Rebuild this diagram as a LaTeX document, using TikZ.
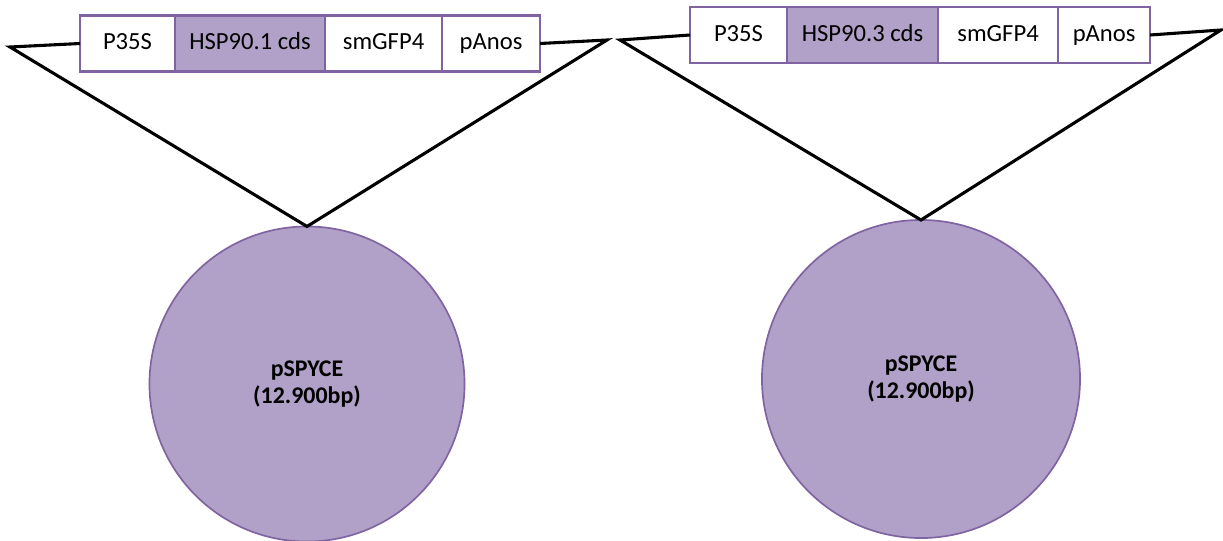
\documentclass[tikz,border=0pt]{standalone}
\usepackage{fontspec}
\setmainfont{Carlito}
\usetikzlibrary{positioning}

\definecolor{lilac}{HTML}{B1A0C7}
\definecolor{lilacdark}{HTML}{8064A2}

\begin{document}
\begin{tikzpicture}[x=0.025cm,y=-0.025cm,
  cell/.style={draw=lilacdark,line width=1.5pt,fill=white,minimum height=1.4cm,
    inner sep=0pt,outer sep=0pt,text height=0.42cm,text depth=0.12cm,font=\fontsize{17.5}{21}\selectfont},
  cds/.style={cell,fill=lilac},
  plasmid/.style={circle,draw=lilacdark,line width=1.2pt,fill=lilac,inner sep=0pt,outer sep=0pt,
    align=center,font=\fontsize{17}{19.5}\selectfont\bfseries},
  link/.style={line width=2.2pt,line join=miter}]

\useasboundingbox (0,0) rectangle (1223,540);

% left construct
\node[cell,minimum width=2.375cm] (promA) at (127.5,43.5) {P35S};
\node[cds,minimum width=3.75cm,right=0pt of promA] (cdsA) {HSP90.1 cds};
\node[cell,minimum width=2.925cm,right=0pt of cdsA] (gfpA) {smGFP4};
\node[cell,minimum width=2.45cm,right=0pt of gfpA] (termA) {pAnos};
\node[plasmid,minimum size=7.875cm] (vecA) at (307,384) {pSPYCE\\(12.900bp)};
\coordinate (endAl) at (10,47);
\coordinate (endAr) at (607,40);
\draw[link] (promA.west) -- (endAl) -- (vecA.north) -- (endAr) -- (termA.east);

% right construct
\node[cell,minimum width=2.425cm] (promB) at (738.5,35) {P35S};
\node[cds,minimum width=3.775cm,right=0pt of promB] (cdsB) {HSP90.3 cds};
\node[cell,minimum width=3cm,right=0pt of cdsB] (gfpB) {smGFP4};
\node[cell,minimum width=2.3cm,right=0pt of gfpB] (termB) {pAnos};
\node[plasmid,minimum size=7.95cm] (vecB) at (921,379) {pSPYCE\\(12.900bp)};
\coordinate (endBl) at (620,40);
\coordinate (endBr) at (1221,30);
\draw[link] (promB.west) -- (endBl) -- (vecB.north) -- (endBr) -- (termB.east);

\end{tikzpicture}
\end{document}
